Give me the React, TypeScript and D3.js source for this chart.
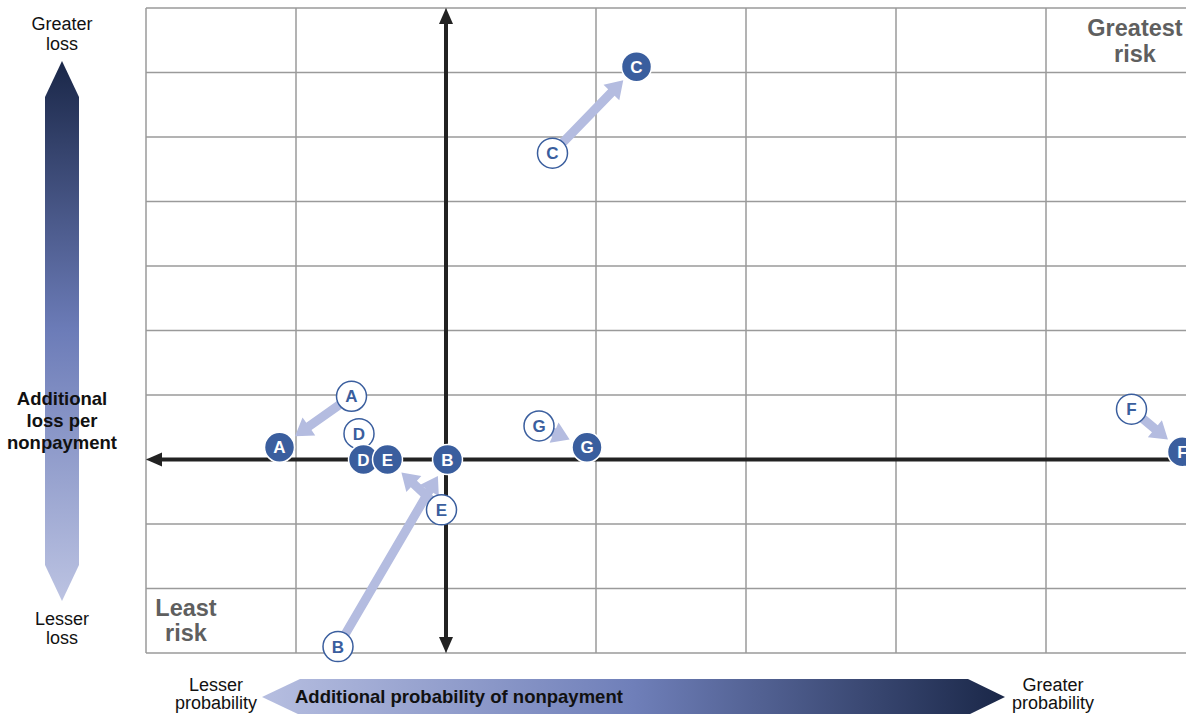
import React, { useRef, useEffect } from "react";
import * as d3 from "d3";

// grid tick values (data units)
const xTicks = [-2, -1, 0, 1, 2, 3, 4, 5];
const yTicks = [-3, -2, -1, 0, 1, 2, 3, 4, 5, 6, 7];

// series: before (open circle) and after (filled circle)
const letters = ["A", "B", "C", "D", "E", "F", "G"];
const beforeX = [-0.63, -0.72, 0.71, -0.58, -0.03, 4.57, 0.62];
const beforeY = [0.98, -2.9, 4.75, 0.4, -0.78, 0.78, 0.52];
const afterX = [-1.11, 0.01, 1.27, -0.55, -0.39, 4.91, 0.94];
const afterY = [0.19, 0.0, 6.09, 0.0, 0.0, 0.12, 0.19];
const hasArrow = [true, true, true, false, true, true, true];

const W = 1186;
const H = 714;
const FONT = "'Liberation Sans', Arial, sans-serif";

const App: React.FC = () => {
  const ref = useRef<SVGSVGElement>(null);

  useEffect(() => {
    document.body.style.margin = "0";
    if (!ref.current) return;
    const svg = d3.select(ref.current);
    svg.selectAll("*").remove();

    const x = d3.scaleLinear().domain([-2, 5]).range([146, 1196]);
    const y = d3.scaleLinear().domain([-3, 7]).range([653, 8]);

    const defs = svg.append("defs");
    const vg = defs
      .append("linearGradient")
      .attr("id", "vgrad")
      .attr("x1", 0)
      .attr("y1", 0)
      .attr("x2", 0)
      .attr("y2", 1);
    vg.append("stop").attr("offset", "0%").attr("stop-color", "#1a2748");
    vg.append("stop").attr("offset", "50%").attr("stop-color", "#6c7cb8");
    vg.append("stop").attr("offset", "100%").attr("stop-color", "#bcc3e2");
    const hg = defs
      .append("linearGradient")
      .attr("id", "hgrad")
      .attr("x1", 0)
      .attr("y1", 0)
      .attr("x2", 1)
      .attr("y2", 0);
    hg.append("stop").attr("offset", "0%").attr("stop-color", "#b6bee0");
    hg.append("stop").attr("offset", "50%").attr("stop-color", "#6f7fb9");
    hg.append("stop").attr("offset", "100%").attr("stop-color", "#1a2748");

    // grid
    const grid = svg.append("g");
    grid
      .selectAll("line.v")
      .data(xTicks)
      .join("line")
      .attr("x1", (d) => x(d))
      .attr("x2", (d) => x(d))
      .attr("y1", y(7))
      .attr("y2", y(-3))
      .attr("stroke", "#9a9a9a")
      .attr("stroke-width", 1.5);
    grid
      .selectAll("line.h")
      .data(yTicks)
      .join("line")
      .attr("x1", x(-2))
      .attr("x2", W + 20)
      .attr("y1", (d) => y(d))
      .attr("y2", (d) => y(d))
      .attr("stroke", "#9a9a9a")
      .attr("stroke-width", 1.5);

    // main axes
    const axisColor = "#222";
    svg
      .append("line")
      .attr("x1", x(-2) + 12)
      .attr("x2", W + 20)
      .attr("y1", y(0))
      .attr("y2", y(0))
      .attr("stroke", axisColor)
      .attr("stroke-width", 4);
    svg
      .append("path")
      .attr(
        "d",
        `M${x(-2)},${y(0)} L${x(-2) + 16},${y(0) - 7} L${x(-2) + 16},${y(0) + 7} Z`
      )
      .attr("fill", axisColor);
    svg
      .append("line")
      .attr("x1", x(0))
      .attr("x2", x(0))
      .attr("y1", y(7) + 12)
      .attr("y2", y(-3) - 12)
      .attr("stroke", axisColor)
      .attr("stroke-width", 4);
    svg
      .append("path")
      .attr(
        "d",
        `M${x(0)},${y(7)} L${x(0) - 7},${y(7) + 16} L${x(0) + 7},${y(7) + 16} Z`
      )
      .attr("fill", axisColor);
    svg
      .append("path")
      .attr(
        "d",
        `M${x(0)},${y(-3)} L${x(0) - 7},${y(-3) - 16} L${x(0) + 7},${y(-3) - 16} Z`
      )
      .attr("fill", axisColor);

    // corner labels
    const cornerColor = "#5f5f5f";
    const greatest = svg
      .append("text")
      .attr("text-anchor", "middle")
      .attr("font-family", FONT)
      .attr("font-weight", "bold")
      .attr("font-size", 23.5)
      .attr("fill", cornerColor);
    greatest.append("tspan").attr("x", 1135).attr("y", 36).text("Greatest");
    greatest.append("tspan").attr("x", 1135).attr("y", 62).text("risk");
    const least = svg
      .append("text")
      .attr("text-anchor", "middle")
      .attr("font-family", FONT)
      .attr("font-weight", "bold")
      .attr("font-size", 23.5)
      .attr("fill", cornerColor);
    least.append("tspan").attr("x", 186).attr("y", 616).text("Least");
    least.append("tspan").attr("x", 186).attr("y", 641).text("risk");

    // movement arrows
    const arrowColor = "#b4bce0";
    const idx = d3.range(letters.length).filter((i) => hasArrow[i]);
    svg
      .append("g")
      .selectAll("path")
      .data(idx)
      .join("path")
      .attr("fill", arrowColor)
      .attr("d", (i) => {
        const x0 = x(beforeX[i]);
        const y0 = y(beforeY[i]);
        const x1 = x(afterX[i]);
        const y1 = y(afterY[i]);
        const dx = x1 - x0;
        const dy = y1 - y0;
        const len = Math.hypot(dx, dy);
        const ux = dx / len;
        const uy = dy / len;
        const nx = -uy;
        const ny = ux;
        const tipLen = len - 19;
        const head = 17;
        const sw = 4.5;
        const hw = 11;
        const tx = x0 + ux * tipLen;
        const ty = y0 + uy * tipLen;
        const bx = x0 + ux * (tipLen - head);
        const by = y0 + uy * (tipLen - head);
        const pts = [
          [x0 + nx * sw, y0 + ny * sw],
          [bx + nx * sw, by + ny * sw],
          [bx + nx * hw, by + ny * hw],
          [tx, ty],
          [bx - nx * hw, by - ny * hw],
          [bx - nx * sw, by - ny * sw],
          [x0 - nx * sw, y0 - ny * sw],
        ];
        return "M" + pts.map((p) => p.join(",")).join("L") + "Z";
      });

    const blue = "#3a5e9e";
    const r = 15;
    // open circles (before)
    const open = svg
      .append("g")
      .selectAll("g")
      .data(letters)
      .join("g")
      .attr("transform", (_, i) => `translate(${x(beforeX[i])},${y(beforeY[i])})`);
    open
      .append("circle")
      .attr("r", r)
      .attr("fill", "#fff")
      .attr("stroke", blue)
      .attr("stroke-width", 1.5);
    open
      .append("text")
      .attr("text-anchor", "middle")
      .attr("dy", "0.36em")
      .attr("font-family", FONT)
      .attr("font-weight", "bold")
      .attr("font-size", 17)
      .attr("fill", blue)
      .text((d) => d);

    // filled circles (after)
    const filled = svg
      .append("g")
      .selectAll("g")
      .data(letters)
      .join("g")
      .attr("transform", (_, i) => `translate(${x(afterX[i])},${y(afterY[i])})`);
    filled
      .append("circle")
      .attr("r", r)
      .attr("fill", blue)
      .attr("stroke", "#fff")
      .attr("stroke-width", 1.5);
    filled
      .append("text")
      .attr("text-anchor", "middle")
      .attr("dy", "0.36em")
      .attr("font-family", FONT)
      .attr("font-weight", "bold")
      .attr("font-size", 17)
      .attr("fill", "#fff")
      .text((d) => d);

    // vertical legend arrow
    const vx = 62;
    const vhw = 17;
    svg
      .append("path")
      .attr(
        "d",
        `M${vx},61 L${vx + vhw},97 L${vx + vhw},565 L${vx},601 L${vx - vhw},565 L${vx - vhw},97 Z`
      )
      .attr("fill", "url(#vgrad)");
    const addLines = (
      lines: string[],
      cx: number,
      y0: number,
      lh: number,
      bold = false
    ) => {
      const t = svg
        .append("text")
        .attr("text-anchor", "middle")
        .attr("font-family", FONT)
        .attr("font-size", bold ? 18.5 : 18)
        .attr("font-weight", bold ? "bold" : "normal")
        .attr("fill", "#111");
      lines.forEach((l, i) =>
        t.append("tspan").attr("x", cx).attr("y", y0 + i * lh).text(l)
      );
    };
    addLines(["Greater", "loss"], vx, 30, 20);
    addLines(["Lesser", "loss"], vx, 625, 19);
    addLines(["Additional", "loss per", "nonpayment"], vx, 405, 22, true);

    // horizontal legend arrow
    const hy = 697;
    const hhw = 18;
    svg
      .append("path")
      .attr(
        "d",
        `M262,${hy} L300,${hy - hhw} L968,${hy - hhw} L1005,${hy} L968,${hy + hhw} L300,${hy + hhw} Z`
      )
      .attr("fill", "url(#hgrad)");
    svg
      .append("text")
      .attr("x", 295)
      .attr("y", hy + 6)
      .attr("font-family", FONT)
      .attr("font-size", 18.5)
      .attr("font-weight", "bold")
      .attr("fill", "#111")
      .text("Additional probability of nonpayment");
    addLines(["Lesser", "probability"], 216, 691, 18);
    addLines(["Greater", "probability"], 1053, 691, 18);
  }, []);

  return (
    <svg
      ref={ref}
      width={W}
      height={H}
      style={{ display: "block", background: "#fff" }}
    ></svg>
  );
};

export default App;
